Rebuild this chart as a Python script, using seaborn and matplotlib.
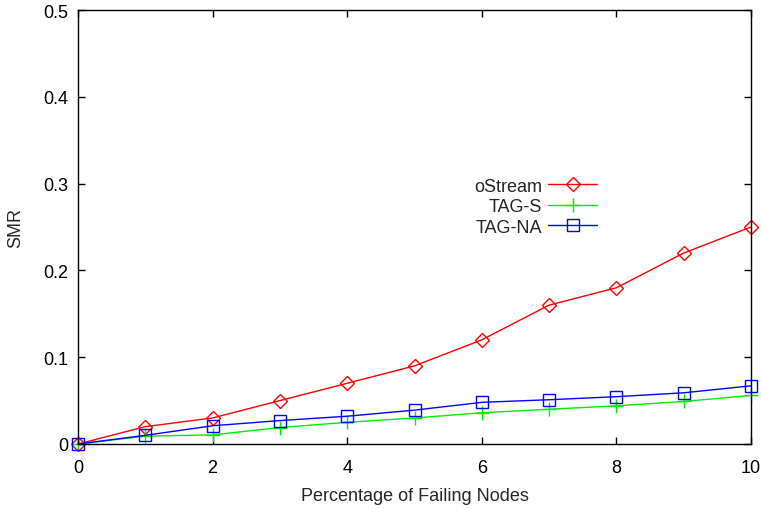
import matplotlib
matplotlib.use("Agg")
import matplotlib.pyplot as plt
import seaborn as sns
import pandas as pd

failing_pct = [0, 1, 2, 3, 4, 5, 6, 7, 8, 9, 10]
ostream = [0, 0.02, 0.03, 0.05, 0.07, 0.09, 0.12, 0.16, 0.18, 0.22, 0.25]
tag_s = [0, 0.009, 0.0105, 0.019, 0.025, 0.030, 0.036, 0.040, 0.044, 0.049, 0.056]
tag_na = [0, 0.010, 0.021, 0.027, 0.032, 0.039, 0.048, 0.051, 0.0545, 0.059, 0.067]

series_names = ["oStream", "TAG-S", "TAG-NA"]
series_values = [ostream, tag_s, tag_na]
colors = ["#ff0000", "#00ee00", "#0000ff"]
markers = ["D", "+", "s"]
marker_sizes = [7, 10, 8]

sns.set_style("ticks")
plt.rcParams["font.family"] = ["Liberation Sans", "DejaVu Sans"]

fig = plt.figure(figsize=(7.61, 5.10), dpi=100)
ax = fig.add_axes([78 / 761, 65 / 510, 673 / 761, 434 / 510])

for name, vals, c, m, ms in zip(series_names, series_values, colors, markers, marker_sizes):
    df = pd.DataFrame({"x": failing_pct, "y": vals})
    sns.lineplot(data=df, x="x", y="y", ax=ax, color=c, lw=1.0, label=name,
                 marker=m, markersize=ms, markerfacecolor="none",
                 markeredgecolor=c, markeredgewidth=1.0, clip_on=False)

ax.set_xlim(0, 10)
ax.set_ylim(0, 0.5)
ax.set_xticks([0, 2, 4, 6, 8, 10])
ax.set_yticks([0, 0.1, 0.2, 0.3, 0.4, 0.5])
ax.set_yticklabels(["0", "0.1", "0.2", "0.3", "0.4", "0.5"])
ax.tick_params(direction="in", length=5, width=1, top=True, right=True,
               labelsize=13, colors="black")
ax.tick_params(axis="x", pad=11)
ax.tick_params(axis="y", pad=7)
for s in ax.spines.values():
    s.set_visible(True)
    s.set_linewidth(1.0)
    s.set_color("black")

ax.set_xlabel("Percentage of Failing Nodes", fontsize=13, labelpad=8)
ax.set_ylabel("SMR", fontsize=13, labelpad=14)

leg = ax.legend(loc="upper right", bbox_to_anchor=(0.771, 0.614), frameon=False,
                markerfirst=False, fontsize=13, handlelength=2.7,
                handletextpad=0.35, labelspacing=0.2, borderaxespad=0,
                borderpad=0)
for t in leg.get_texts():
    t.set_ha("right")
leg._legend_box.align = "right"

fig.savefig("out.png", dpi=100)
